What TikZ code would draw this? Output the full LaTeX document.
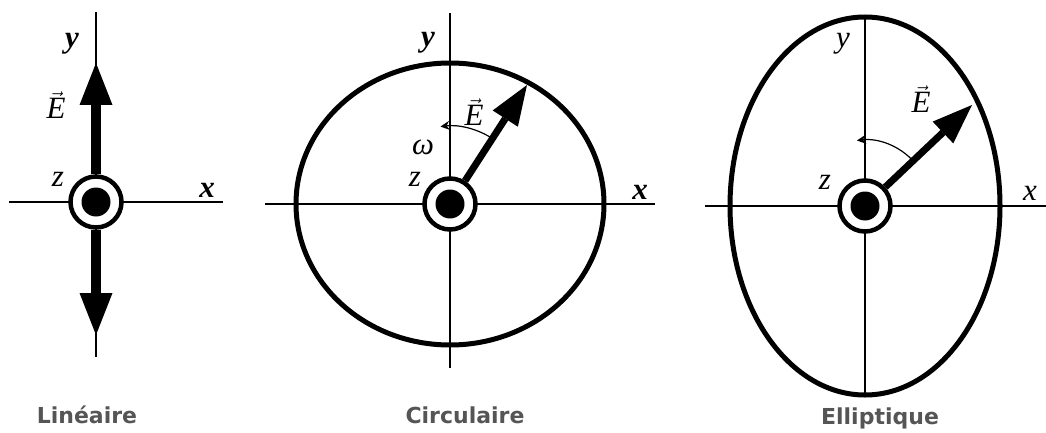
\documentclass[tikz,border=0pt]{standalone}
\usepackage{amsmath}
\usepackage{fontspec}
\usepackage{tikz}
\usetikzlibrary{arrows.meta}
\newfontfamily\capfont{DejaVu Sans}
\newfontfamily\symfont{Liberation Serif}
\definecolor{ccap}{HTML}{555555}
\tikzset{
  axis/.style={line width=1.6pt},
  orbit/.style={line width=5pt},
  ring/.style={circle, draw, line width=4.5pt, fill=white, minimum size=51pt, inner sep=0pt},
  core/.style={circle, fill=black, minimum size=29pt, inner sep=0pt},
  bar/.style={-{Triangle[length=42pt,width=33pt,line width=0pt]}, line width=10pt},
  field/.style={-{Triangle[length=40pt,width=30pt,line width=0pt]}, line width=7pt},
  spin/.style={-{Stealth[length=9pt,width=9pt]}, line width=1.2pt},
  sym/.style={font=\symfont\itshape\fontsize{31}{31}\selectfont},
  title/.style={font=\capfont\bfseries\fontsize{22}{22}\selectfont, text=ccap},
}
\newcommand{\fieldE}{$\vec{\text{E}}$}
\begin{document}
\begin{tikzpicture}[x=1pt,y=1pt]
\useasboundingbox (0,0) rectangle (1046,432);
% lineaire
\coordinate (o1) at (96,230);
\coordinate (n1) at (96,420); \coordinate (s1) at (96,75);
\coordinate (w1) at (9,230);  \coordinate (e1) at (223,230);
\draw[axis] (n1) -- (s1); \draw[axis] (w1) -- (e1);
\node[ring] (r1) at (o1) {}; \node[core] (c1) at (o1) {};
\coordinate (t1) at (96,369); \coordinate (b1) at (96,97);
\draw[bar] (r1.north) -- (t1); \draw[bar] (r1.south) -- (b1);
\node[sym] (ly1) at (72,388) {\bfseries y};
\node[sym] (le1) at (56,327) {\fieldE};
\node[sym] (lz1) at (58,253) {z};
\node[sym] (lx1) at (207,242) {\bfseries x};
\node[title] (cap1) at (87,17) {Linéaire};
% circulaire
\coordinate (o2) at (450,228);
\coordinate (n2) at (450,419); \coordinate (s2) at (450,64);
\coordinate (w2) at (265,228); \coordinate (e2) at (655,228);
\draw[axis] (n2) -- (s2); \draw[axis] (w2) -- (e2);
\draw[orbit] (o2) ellipse [x radius=154, y radius=141];
\node[ring] (r2) at (o2) {}; \node[core] (c2) at (o2) {};
\coordinate (t2) at (527,347);
\draw[field] (r2.57) -- (t2);
\draw[spin] ([shift={(57:78)}]o2) arc[start angle=57, end angle=97, radius=78];
\node[sym] (ly2) at (428,389) {\bfseries y};
\node[sym] (le2) at (474,320) {\fieldE};
\node[sym] (lw2) at (423,285) {ω};
\node[sym] (lz2) at (415,253) {z};
\node[sym] (lx2) at (640,240) {\bfseries x};
\node[title] (cap2) at (465,17) {Circulaire};
% elliptique
\coordinate (o3) at (865,226);
\coordinate (n3) at (865,417); \coordinate (s3) at (865,35);
\coordinate (w3) at (705,226); \coordinate (e3) at (1046,226);
\draw[axis] (n3) -- (s3); \draw[axis] (w3) -- (e3);
\draw[orbit] (o3) ellipse [x radius=135, y radius=189];
\node[ring] (r3) at (o3) {}; \node[core] (c3) at (o3) {};
\coordinate (t3) at (972,327);
\draw[field] (r3.43) -- (t3);
\draw[spin] ([shift={(43:66)}]o3) arc[start angle=43, end angle=97, radius=66];
\node[sym] (ly3) at (843,388) {y};
\node[sym] (le3) at (921,333) {\fieldE};
\node[sym] (lz3) at (825,250) {z};
\node[sym] (lx3) at (1030,239) {x};
\node[title] (cap3) at (880,14) {Elliptique};
\end{tikzpicture}
\end{document}
